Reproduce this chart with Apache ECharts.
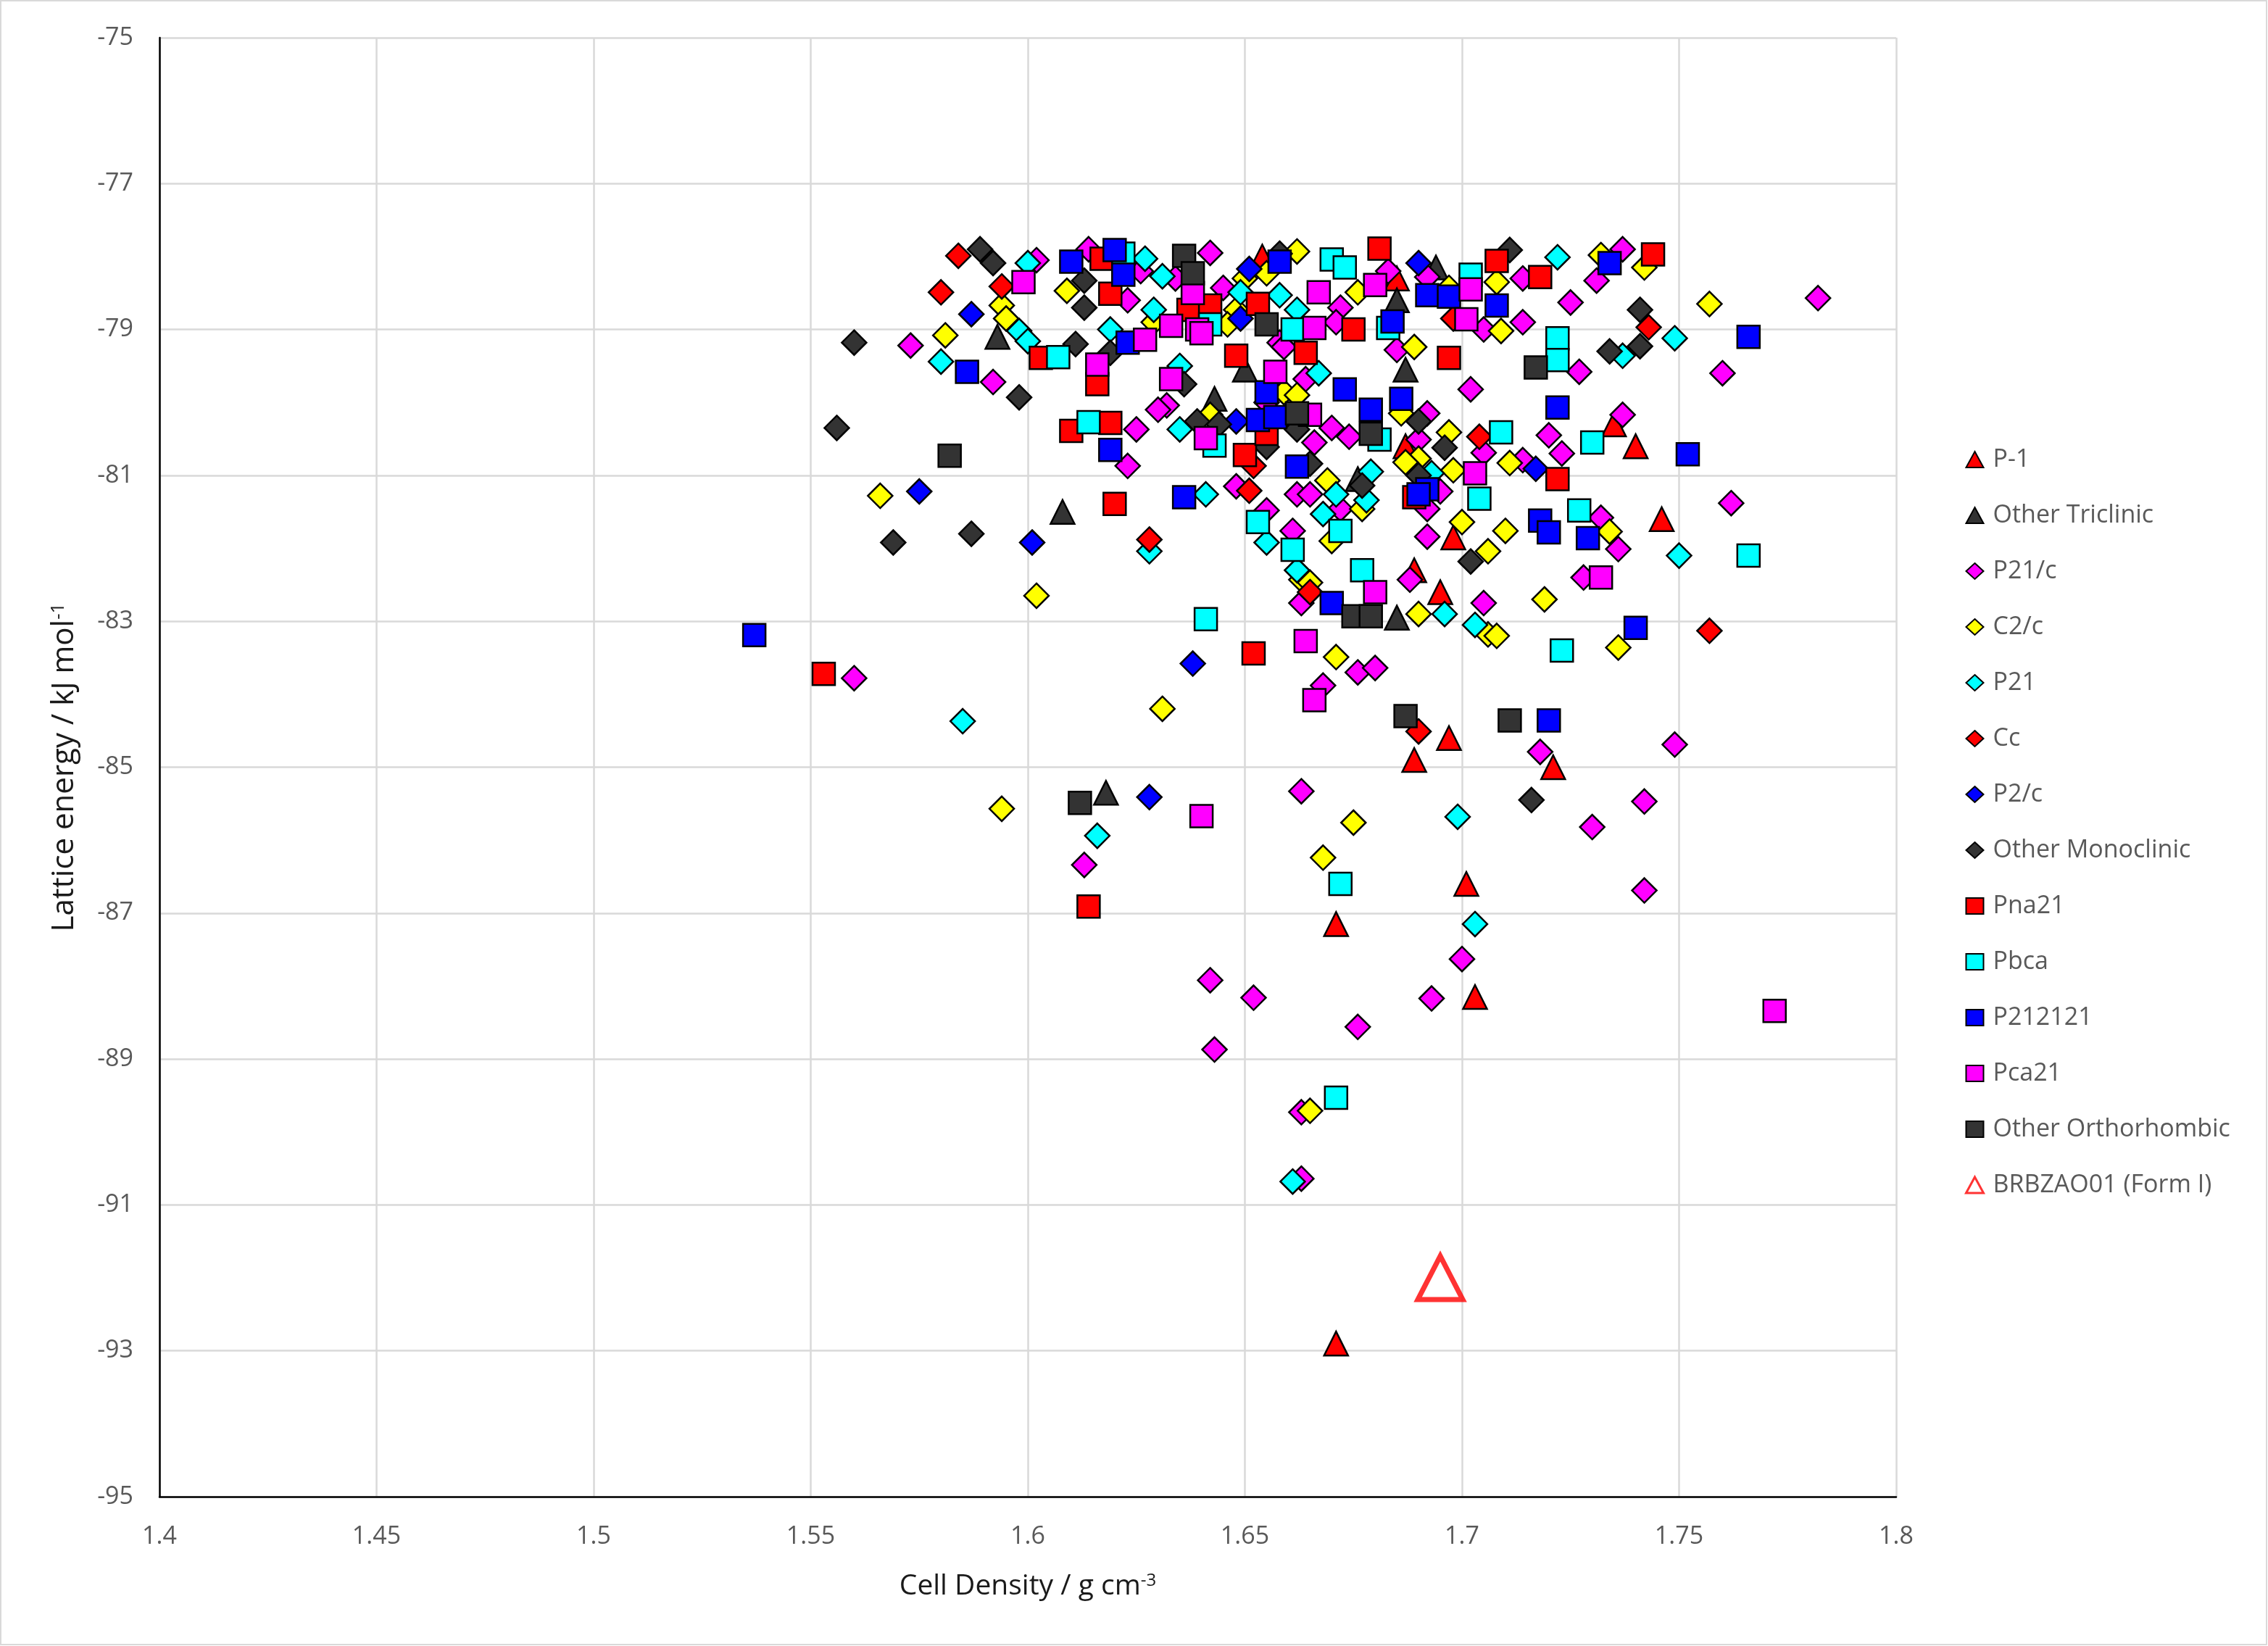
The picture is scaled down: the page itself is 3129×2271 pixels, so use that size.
<!DOCTYPE html>
<html>
<head>
<meta charset="utf-8">
<script src="https://cdn.jsdelivr.net/npm/echarts@6/dist/echarts.min.js"></script>
<style>
  html, body { margin: 0; padding: 0; background: #fff; }
  #chart { width: 3129px; height: 2271px; }
</style>
</head>
<body>
<div id="chart"></div>
<script>
// [density g/cm3, lattice energy kJ/mol] per space group
const pMinus1 = [[1.654,-78.0],[1.685,-78.3],[1.687,-80.6],[1.698,-81.85],[1.689,-82.3],[1.695,-82.6],[1.735,-80.3],[1.740,-80.6],[1.746,-81.6],[1.697,-84.6],[1.689,-84.9],[1.721,-85.0],[1.701,-86.6],[1.703,-88.15],[1.671,-87.15],[1.671,-92.9]];
const otherTriclinic = [[1.593,-79.1],[1.650,-79.55],[1.643,-79.95],[1.694,-78.15],[1.685,-78.6],[1.687,-79.55],[1.608,-81.5],[1.676,-81.05],[1.685,-82.95],[1.618,-85.35]];
const p21c = [[1.602,-78.05],[1.573,-79.22],[1.592,-79.72],[1.614,-77.9],[1.626,-78.2],[1.623,-78.6],[1.642,-77.95],[1.634,-78.3],[1.645,-78.43],[1.658,-79.18],[1.664,-79.68],[1.632,-80.04],[1.683,-78.2],[1.692,-78.28],[1.672,-78.7],[1.714,-78.3],[1.714,-78.9],[1.705,-79.0],[1.685,-79.28],[1.702,-79.82],[1.671,-78.9],[1.725,-78.63],[1.737,-77.9],[1.731,-78.33],[1.760,-79.6],[1.727,-79.58],[1.782,-78.57],[1.737,-80.17],[1.625,-80.37],[1.623,-80.87],[1.630,-80.1],[1.648,-81.15],[1.655,-81.48],[1.661,-81.76],[1.662,-81.26],[1.665,-81.26],[1.670,-80.35],[1.666,-80.55],[1.674,-80.47],[1.690,-80.51],[1.692,-80.15],[1.672,-81.46],[1.695,-81.22],[1.692,-81.46],[1.692,-81.84],[1.720,-80.45],[1.714,-80.79],[1.705,-80.69],[1.688,-82.43],[1.705,-82.75],[1.723,-80.7],[1.732,-81.58],[1.736,-82.01],[1.728,-82.4],[1.762,-81.38],[1.560,-83.78],[1.663,-85.33],[1.613,-86.34],[1.642,-87.92],[1.652,-88.16],[1.676,-88.56],[1.676,-83.7],[1.668,-83.88],[1.663,-82.75],[1.680,-83.64],[1.718,-84.79],[1.749,-84.69],[1.742,-85.47],[1.730,-85.82],[1.742,-86.69],[1.700,-87.63],[1.693,-88.17],[1.643,-88.87],[1.663,-89.73],[1.663,-90.64],[1.655,-80.0],[1.659,-79.24]];
const c2c = [[1.594,-78.67],[1.595,-78.85],[1.581,-79.08],[1.609,-78.47],[1.662,-77.93],[1.655,-78.23],[1.650,-78.3],[1.648,-78.73],[1.646,-78.93],[1.629,-78.9],[1.659,-79.86],[1.662,-79.9],[1.676,-78.49],[1.689,-79.24],[1.708,-78.35],[1.709,-79.02],[1.697,-78.43],[1.732,-77.98],[1.742,-78.15],[1.757,-78.65],[1.566,-81.28],[1.602,-82.65],[1.642,-80.17],[1.663,-82.43],[1.697,-80.41],[1.698,-80.93],[1.690,-80.77],[1.687,-80.82],[1.669,-81.07],[1.670,-81.9],[1.700,-81.64],[1.711,-80.83],[1.710,-81.76],[1.706,-82.04],[1.677,-81.46],[1.719,-82.7],[1.665,-82.47],[1.686,-80.15],[1.734,-81.77],[1.631,-84.2],[1.594,-85.57],[1.671,-83.49],[1.675,-85.76],[1.668,-86.24],[1.690,-82.9],[1.706,-83.18],[1.708,-83.2],[1.736,-83.36],[1.665,-89.71]];
const p21 = [[1.600,-78.09],[1.580,-79.44],[1.598,-79.02],[1.600,-79.16],[1.627,-78.03],[1.631,-78.27],[1.629,-78.73],[1.619,-79.0],[1.658,-78.53],[1.649,-78.49],[1.662,-78.73],[1.635,-79.5],[1.722,-78.01],[1.749,-79.12],[1.737,-79.36],[1.635,-80.37],[1.641,-81.26],[1.628,-82.04],[1.655,-81.92],[1.662,-82.3],[1.679,-80.95],[1.671,-81.26],[1.678,-81.34],[1.668,-81.53],[1.693,-80.97],[1.750,-82.1],[1.696,-82.9],[1.703,-83.05],[1.699,-85.68],[1.703,-87.15],[1.585,-84.37],[1.616,-85.94],[1.661,-90.68],[1.667,-79.6]];
const cc = [[1.584,-77.99],[1.580,-78.49],[1.594,-78.41],[1.698,-78.85],[1.743,-78.97],[1.628,-81.88],[1.651,-81.21],[1.652,-80.87],[1.704,-80.47],[1.665,-82.6],[1.690,-84.51],[1.757,-83.13]];
const p2c = [[1.587,-78.79],[1.651,-78.17],[1.649,-78.85],[1.690,-78.09],[1.575,-81.22],[1.601,-81.92],[1.717,-80.91],[1.638,-83.58],[1.628,-85.41],[1.648,-80.26]];
const otherMonoclinic = [[1.589,-77.9],[1.592,-78.09],[1.560,-79.18],[1.598,-79.93],[1.613,-78.33],[1.613,-78.7],[1.611,-79.2],[1.619,-79.32],[1.658,-77.96],[1.636,-79.75],[1.711,-77.91],[1.741,-78.73],[1.741,-79.23],[1.734,-79.3],[1.556,-80.35],[1.569,-81.92],[1.587,-81.8],[1.662,-80.37],[1.655,-80.61],[1.644,-80.3],[1.639,-80.26],[1.690,-80.26],[1.696,-80.62],[1.665,-80.84],[1.677,-81.14],[1.702,-82.18],[1.690,-81.0],[1.716,-85.45]];
const pna21 = [[1.603,-79.39],[1.617,-78.03],[1.619,-78.51],[1.637,-78.73],[1.642,-78.67],[1.653,-78.65],[1.664,-79.32],[1.648,-79.36],[1.616,-79.75],[1.681,-77.89],[1.708,-78.06],[1.718,-78.28],[1.675,-79.0],[1.697,-79.39],[1.744,-77.97],[1.610,-80.39],[1.619,-80.28],[1.620,-81.39],[1.650,-80.72],[1.655,-80.43],[1.689,-81.3],[1.722,-81.05],[1.553,-83.72],[1.652,-83.44],[1.614,-86.91]];
const pbca = [[1.607,-79.38],[1.622,-77.96],[1.642,-78.93],[1.661,-79.0],[1.670,-78.04],[1.673,-78.15],[1.702,-78.25],[1.683,-78.98],[1.722,-79.12],[1.722,-79.42],[1.614,-80.27],[1.643,-80.59],[1.653,-81.64],[1.661,-82.02],[1.681,-80.51],[1.709,-80.41],[1.704,-81.32],[1.672,-81.76],[1.677,-82.3],[1.730,-80.55],[1.727,-81.48],[1.766,-82.1],[1.641,-82.97],[1.672,-86.6],[1.723,-83.4],[1.671,-89.53]];
const p212121 = [[1.586,-79.58],[1.610,-78.07],[1.620,-77.91],[1.622,-78.25],[1.658,-78.07],[1.623,-79.18],[1.655,-79.86],[1.692,-78.53],[1.697,-78.55],[1.708,-78.67],[1.684,-78.89],[1.673,-79.82],[1.686,-79.95],[1.679,-80.1],[1.734,-78.09],[1.766,-79.1],[1.619,-80.65],[1.636,-81.3],[1.653,-80.24],[1.657,-80.2],[1.662,-80.88],[1.692,-81.19],[1.690,-81.26],[1.718,-81.62],[1.720,-81.78],[1.722,-80.07],[1.729,-81.86],[1.752,-80.71],[1.537,-83.19],[1.670,-82.75],[1.720,-84.36],[1.740,-83.09]];
const pca21 = [[1.599,-78.35],[1.638,-78.5],[1.633,-78.95],[1.639,-79.0],[1.640,-79.05],[1.627,-79.14],[1.616,-79.48],[1.633,-79.68],[1.657,-79.58],[1.680,-78.39],[1.702,-78.45],[1.667,-78.49],[1.701,-78.86],[1.666,-78.98],[1.641,-80.49],[1.665,-80.17],[1.703,-80.97],[1.680,-82.6],[1.732,-82.4],[1.664,-83.27],[1.666,-84.08],[1.640,-85.67],[1.772,-88.34]];
const otherOrthorhombic = [[1.636,-77.99],[1.638,-78.23],[1.655,-78.93],[1.717,-79.52],[1.582,-80.73],[1.662,-80.15],[1.679,-80.43],[1.687,-84.3],[1.711,-84.36],[1.675,-82.93],[1.679,-82.93],[1.612,-85.49]];
const brbzao01 = [[1.695,-92.0]];

const xTicks = { min: 1.4, max: 1.8, step: 0.05 };
const yTicks = { min: -95, max: -75, step: 2 };

const chart = echarts.init(document.getElementById('chart'));

function scatter(name, data, symbol, color, size) {
    return {
        type: 'scatter',
        name: name,
        data: data,
        symbol: symbol,
        symbolSize: size,
        itemStyle: { color: color, borderColor: '#000', borderWidth: 2.5, opacity: 1 },
        emphasis: { disabled: true }
    };
}

const series = [
    scatter('P-1', pMinus1, 'triangle', '#ff0000', 33),
    scatter('Other Triclinic', otherTriclinic, 'triangle', '#333333', 33),
    scatter('P21/c', p21c, 'diamond', '#ff00ff', 34),
    scatter('C2/c', c2c, 'diamond', '#ffff00', 34),
    scatter('P21', p21, 'diamond', '#00ffff', 34),
    scatter('Cc', cc, 'diamond', '#ff0000', 34),
    scatter('P2/c', p2c, 'diamond', '#0000ff', 34),
    scatter('Other Monoclinic', otherMonoclinic, 'diamond', '#333333', 34),
    scatter('Pna21', pna21, 'rect', '#ff0000', 31),
    scatter('Pbca', pbca, 'rect', '#00ffff', 31),
    scatter('P212121', p212121, 'rect', '#0000ff', 31),
    scatter('Pca21', pca21, 'rect', '#ff00ff', 31),
    scatter('Other Orthorhombic', otherOrthorhombic, 'rect', '#333333', 31),
    {
        type: 'scatter',
        name: 'BRBZAO01 (Form I)',
        data: brbzao01,
        symbol: 'triangle',
        symbolSize: [62, 60],
        itemStyle: { color: 'rgba(255,255,255,0)', borderColor: '#ff0000', borderWidth: 7 },
        emphasis: { disabled: true }
    }
];

const legendData = series.map(s => s.name === 'BRBZAO01 (Form I)'
    ? { name: s.name, itemStyle: { borderWidth: 3, color: '#fff', borderColor: '#ff0000' } }
    : { name: s.name, itemStyle: { borderWidth: 2 } });

const font = 'Open Sans';

chart.setOption({
    animation: false,
    backgroundColor: '#fff',
    textStyle: { fontFamily: font },
    grid: { left: 220, right: 513, top: 52, bottom: 206 },
    legend: {
        orient: 'vertical',
        left: 2706,
        top: 612,
        itemWidth: 24,
        itemHeight: 22,
        itemGap: 43,
        data: legendData,
        textStyle: { fontSize: 34, color: '#595959', fontFamily: font, padding: [0, 0, 0, 8] }
    },
    xAxis: {
        type: 'value',
        min: xTicks.min,
        max: xTicks.max,
        interval: xTicks.step,
        name: 'Cell Density / g cm{sup|-3}',
        nameLocation: 'middle',
        nameGap: 104,
        nameTextStyle: {
            fontSize: 39, color: '#1a1a1a', fontFamily: font,
            rich: { sup: { fontSize: 24, verticalAlign: 'top', lineHeight: 22, color: '#1a1a1a' } }
        },
        axisLine: { show: true, lineStyle: { color: '#000', width: 2.5 } },
        axisTick: { show: false },
        axisLabel: {
            fontSize: 34, color: '#595959', margin: 38,
            formatter: v => String(+v.toFixed(2))
        },
        splitLine: { show: true, lineStyle: { color: '#d9d9d9', width: 2.5 } }
    },
    yAxis: {
        type: 'value',
        min: yTicks.min,
        max: yTicks.max,
        interval: yTicks.step,
        name: 'Lattice energy / kJ mol{sup|-1}',
        nameLocation: 'middle',
        nameGap: 110,
        nameTextStyle: {
            fontSize: 42, color: '#1a1a1a', fontFamily: font,
            rich: { sup: { fontSize: 26, verticalAlign: 'top', lineHeight: 24, color: '#1a1a1a' } }
        },
        axisLine: { show: true, lineStyle: { color: '#000', width: 2.5 } },
        axisTick: { show: false },
        axisLabel: { fontSize: 34, color: '#595959', margin: 36 },
        splitLine: { show: true, lineStyle: { color: '#d9d9d9', width: 2.5 } }
    },
    graphic: [{
        type: 'rect',
        shape: { x: 1, y: 1, width: 3126, height: 2268 },
        style: { fill: 'none', stroke: '#d9d9d9', lineWidth: 2 },
        silent: true
    }],
    series: series
});
</script>
</body>
</html>
